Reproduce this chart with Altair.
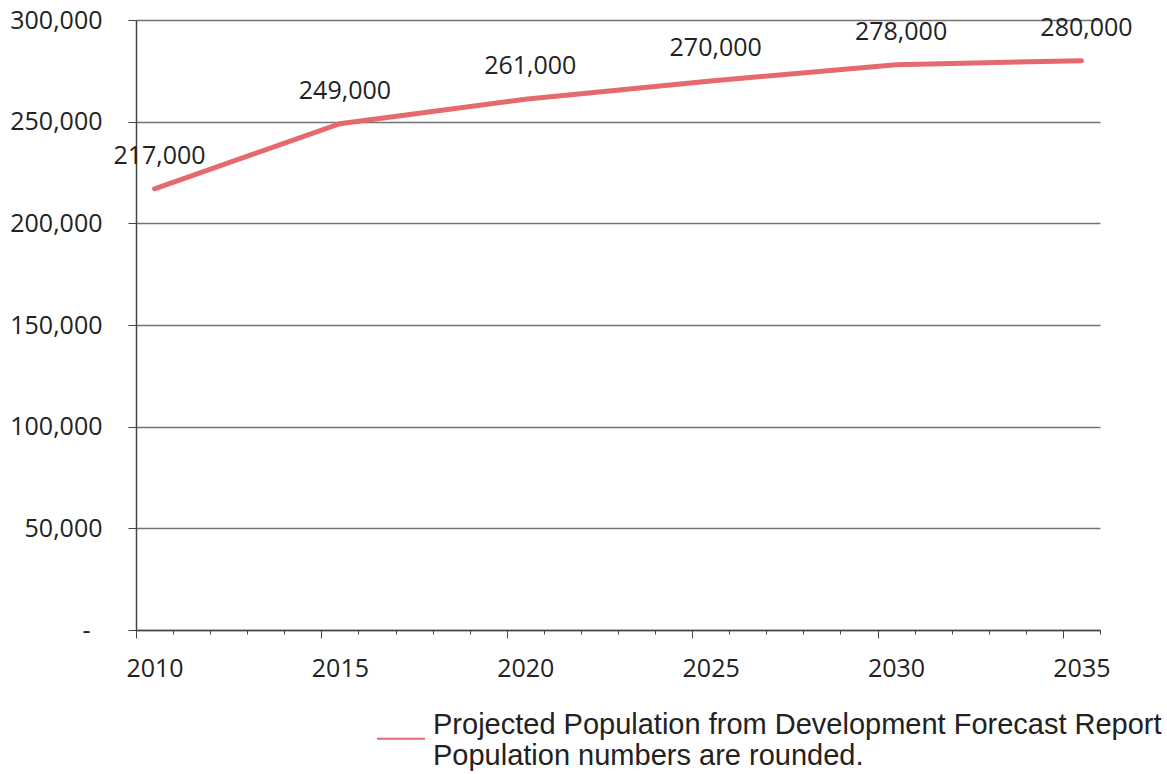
import altair as alt
import pandas as pd

# ---- data ----
years = [2010, 2015, 2020, 2025, 2030, 2035]
population = [217000, 249000, 261000, 270000, 278000, 280000]
series_name = "Projected Population from Development Forecast Report"
note_line = "Population numbers are rounded."
y_tick_values = [0, 50000, 100000, 150000, 200000, 250000, 300000]
first_year, last_year = 2010, 2035

df = pd.DataFrame({
    "year": years,
    "population": population,
    "series": [series_name] * len(years),
})

# category boundaries (Excel style "between tick marks" category axis)
boundaries = [y - 0.5 for y in range(first_year, last_year + 2)]
major_bounds = [b for b in boundaries if (b + 0.5 - first_year) % 5 == 0 and b < last_year]

NUM_FONT = "Open Sans"
LEG_FONT = "Liberation Sans"

x_scale = alt.Scale(domain=[first_year - 0.5, last_year + 0.5], nice=False, zero=False)
y_scale = alt.Scale(domain=[0, 300000], nice=False)

y_axis = alt.Axis(
    values=y_tick_values,
    labelExpr="datum.value == 0 ? '-' : format(datum.value, ',d')",
    title=None,
    grid=True,
    gridColor="#737373",
    gridWidth=1.4,
    domainColor="#444444",
    domainWidth=1.5,
    tickColor="#444444",
    tickSize=8,
    labelPadding={"condition": {"test": "datum.value == 0", "value": 38}, "value": 26},
    labelFont=NUM_FONT,
    labelFontSize=25,
    labelColor="#222222",
)

line = alt.Chart(df).mark_line(strokeWidth=5, strokeCap="round").encode(
    x=alt.X("year:Q", scale=x_scale, axis=alt.Axis(
        orient="bottom",
        values=major_bounds,
        labelExpr="format(datum.value + 0.5, 'd')",
        labelOffset=18.5,
        labelFlush=False,
        labelOverlap=False,
        title=None,
        grid=False,
        domainColor="#444444",
        domainWidth=1.5,
        tickColor="#444444",
        tickSize=8,
        labelPadding=18,
        labelFont=NUM_FONT,
        labelFontSize=25,
        labelColor="#222222",
    )),
    y=alt.Y("population:Q", scale=y_scale, axis=y_axis),
    color=alt.Color("series:N", scale=alt.Scale(range=["#E6696D"]), legend=alt.Legend(
        title=None,
        orient="none",
        legendX=240,
        legendY=689,
        symbolType="M-1,0.2L1,0.2",
        symbolSize=2304,
        symbolStrokeWidth=2,
        labelFont=LEG_FONT,
        labelFontSize=29,
        labelColor="#222222",
        labelLimit=0,
        labelOffset=7,
        labelExpr="[datum.label, '" + note_line + "']",
        labelBaseline="alphabetic",
        padding=0,
    )),
)

labels = alt.Chart(df).mark_text(
    font=NUM_FONT, fontSize=25, color="#222222", dy=-33, dx=5
).encode(
    x=alt.X("year:Q", scale=x_scale, axis=alt.Axis(
        orient="bottom",
        values=boundaries,
        labels=False,
        domain=False,
        grid=False,
        title=None,
        tickColor="#444444",
        tickSize=4,
    )),
    y=alt.Y("population:Q", scale=y_scale),
    text=alt.Text("population:Q", format=",d"),
)

chart = alt.layer(line, labels).resolve_axis(x="independent").properties(
    width=964,
    height=610,
    autosize=alt.AutoSizeParams(type="none"),
    padding={"left": 136, "top": 20, "right": 67, "bottom": 144},
    background="white",
).configure_view(stroke=None)

chart.save("out.html", embed_options={"renderer": "svg", "actions": False})
